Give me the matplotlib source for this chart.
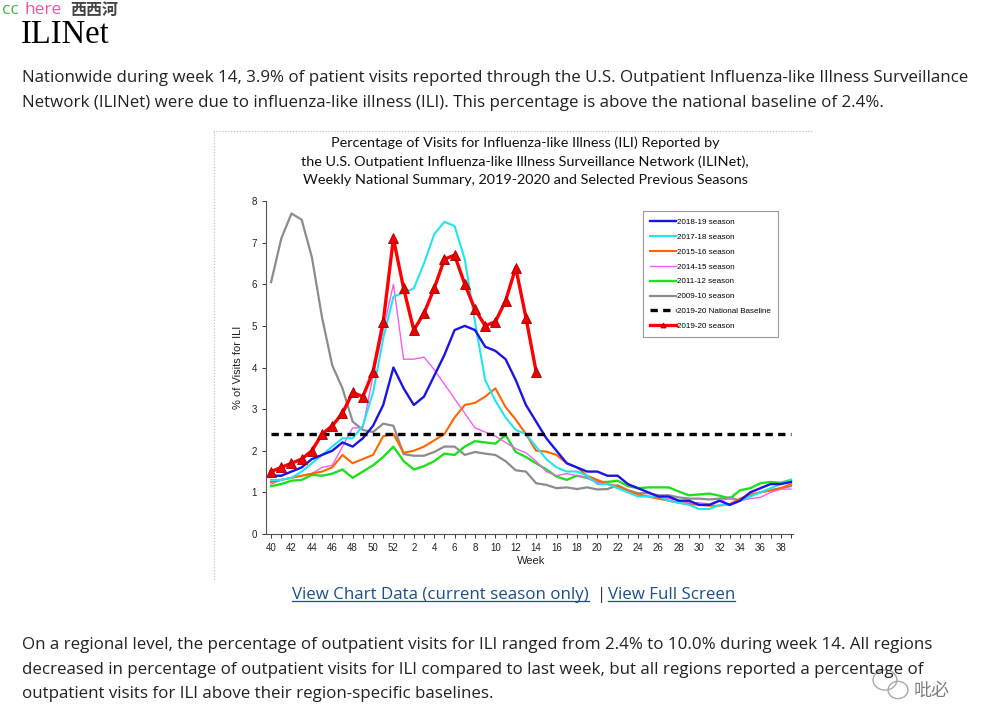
import matplotlib
matplotlib.use("Agg")
import matplotlib.pyplot as plt
from matplotlib.lines import Line2D
from matplotlib.patches import Ellipse

# ---- data ----
weeks = list(range(40, 53)) + list(range(1, 40))
week_labels = [str(w) if i % 2 == 0 else "" for i, w in enumerate(weeks)]

s1819 = [1.4, 1.4, 1.5, 1.6, 1.8, 1.9, 2.0, 2.2, 2.1, 2.3, 2.6, 3.1, 4.0,
         3.5, 3.1, 3.3, 3.8, 4.3, 4.9, 5.0, 4.9, 4.5, 4.4, 4.2, 3.7, 3.1, 2.7,
         2.3, 2.0, 1.7, 1.6, 1.5, 1.5, 1.4, 1.4, 1.2, 1.1, 1.0, 0.9, 0.9, 0.8,
         0.8, 0.7, 0.7, 0.8, 0.7, 0.8, 1.0, 1.1, 1.2, 1.2, 1.25]
s1718 = [1.3, 1.3, 1.35, 1.5, 1.7, 1.9, 2.1, 2.3, 2.3, 2.6, 3.4, 4.7, 5.7,
         5.8, 5.9, 6.5, 7.2, 7.5, 7.4, 6.6, 5.1, 3.7, 3.2, 2.8, 2.5, 2.4, 2.1,
         1.8, 1.6, 1.5, 1.5, 1.4, 1.2, 1.2, 1.1, 1.0, 0.9, 0.9, 0.9, 0.8, 0.75,
         0.7, 0.6, 0.6, 0.7, 0.7, 0.8, 0.9, 1.0, 1.1, 1.2, 1.3]
s1516 = [1.25, 1.3, 1.35, 1.4, 1.45, 1.5, 1.6, 1.9, 1.7, 1.8, 1.9, 2.35, 2.4,
         1.95, 2.0, 2.1, 2.25, 2.4, 2.8, 3.1, 3.15, 3.3, 3.5, 3.05, 2.75, 2.4,
         2.0, 1.98, 1.9, 1.7, 1.6, 1.4, 1.3, 1.2, 1.15, 1.05, 0.95, 0.9, 0.85,
         0.8, 0.75, 0.72, 0.7, 0.68, 0.68, 0.72, 0.85, 0.95, 1.0, 1.05, 1.1, 1.2]
s1415 = [1.2, 1.3, 1.35, 1.4, 1.45, 1.6, 1.65, 2.1, 2.55, 2.55, 3.8, 4.9, 6.0,
         4.2, 4.2, 4.25, 3.95, 3.6, 3.25, 2.9, 2.55, 2.45, 2.35, 2.2, 2.05,
         1.95, 1.75, 1.5, 1.4, 1.45, 1.4, 1.35, 1.25, 1.2, 1.1, 1.0, 0.95, 0.9,
         0.85, 0.85, 0.8, 0.75, 0.75, 0.72, 0.8, 0.85, 0.8, 0.85, 0.88, 1.0,
         1.08, 1.08]
s1112 = [1.15, 1.2, 1.28, 1.3, 1.42, 1.4, 1.45, 1.55, 1.35, 1.5, 1.65, 1.85,
         2.1, 1.75, 1.55, 1.63, 1.75, 1.93, 1.9, 2.1, 2.23, 2.2, 2.17, 2.38,
         1.97, 1.85, 1.7, 1.55, 1.38, 1.3, 1.4, 1.35, 1.25, 1.25, 1.28, 1.15,
         1.1, 1.12, 1.12, 1.12, 1.02, 0.93, 0.95, 0.97, 0.92, 0.85, 1.05, 1.1,
         1.22, 1.25, 1.23, 1.3]
s0910 = [6.05, 7.1, 7.7, 7.55, 6.65, 5.2, 4.05, 3.5, 2.7, 2.5, 2.45, 2.65,
         2.6, 1.92, 1.88, 1.88, 1.97, 2.1, 2.1, 1.9, 1.97, 1.93, 1.9, 1.75,
         1.53, 1.5, 1.22, 1.18, 1.1, 1.12, 1.08, 1.12, 1.07, 1.08, 1.17, 1.05,
         0.98, 0.98, 0.93, 0.93, 0.88, 0.85, 0.85, 0.83, 0.85, 0.88, 0.8, 0.93,
         1.0, 1.05, 1.1, 1.15]
s1920 = [1.5, 1.6, 1.7, 1.8, 2.0, 2.4, 2.6, 2.9, 3.4, 3.3, 3.9, 5.1, 7.1,
         5.9, 4.9, 5.3, 5.9, 6.6, 6.7, 6.0, 5.4, 5.0, 5.1, 5.6, 6.4, 5.2, 3.9]
baseline = 2.4

title_lines = ["Percentage of Visits for Influenza-like Illness (ILI) Reported by",
               "the U.S. Outpatient Influenza-like Illness Surveillance Network (ILINet),",
               "Weekly National Summary, 2019-2020 and Selected Previous Seasons"]

W, H = 991, 720
fig = plt.figure(figsize=(W / 100, H / 100), dpi=100)


def fx(px):
    return px / W


def fy(py):
    return 1 - py / H


# ---- page header ----
fig.text(fx(2), fy(10), "cc", color="#4caf50", fontsize=12.5, family="Open Sans", va="center")
fig.text(fx(24), fy(10), "here", color="#ff4fa3", fontsize=12.5, family="Open Sans", va="center")
fig.text(fx(70), fy(10), "西西河", color="#444444", fontsize=11.5, family="Noto Sans CJK SC",
         weight="bold", va="center")
fig.text(fx(21), fy(35), "ILINet", color="black", fontsize=23.5, family="Liberation Serif", va="center")

body = dict(fontsize=12.2, family="Open Sans", color="#222222", va="center")
fig.text(fx(22), fy(78), "Nationwide during week 14, 3.9% of patient visits reported through the "
         "U.S. Outpatient Influenza-like Illness Surveillance", **body)
fig.text(fx(22), fy(103), "Network (ILINet) were due to influenza-like illness (ILI). "
         "This percentage is above the national baseline of 2.4%.", **body)
fig.text(fx(22), fy(645), "On a regional level, the percentage of outpatient visits for ILI ranged "
         "from 2.4% to 10.0% during week 14. All regions", **body)
fig.text(fx(22), fy(670), "decreased in percentage of outpatient visits for ILI compared to last week, "
         "but all regions reported a percentage of", **body)
fig.text(fx(22), fy(694), "outpatient visits for ILI above their region-specific baselines.", **body)

# dotted frame of the chart image
fig.add_artist(Line2D([fx(213), fx(812)], [fy(131), fy(131)], color="#bbbbbb", lw=0.8, ls=":"))
fig.add_artist(Line2D([fx(214), fx(214)], [fy(131), fy(580)], color="#bbbbbb", lw=0.8, ls=":"))

# chart title
for line, ty in zip(title_lines, [143, 161.5, 180]):
    fig.text(fx(525), fy(ty), line, ha="center", va="center", fontsize=10.4,
             family="Lato", color="#111111")

# ---- the chart ----
ax = fig.add_axes([fx(266), fy(534), fx(793) - fx(266), fy(201) - fy(534)])
x_all = list(range(len(weeks)))

l0910, = ax.plot(x_all, s0910, color="#8c8c8c", lw=1.6)
l1112, = ax.plot(x_all, s1112, color="#1fe01f", lw=1.7)
l1415, = ax.plot(x_all, s1415, color="#f25ef2", lw=1.0)
l1516, = ax.plot(x_all, s1516, color="#ff6600", lw=1.5)
l1718, = ax.plot(x_all, s1718, color="#22e4f0", lw=1.5)
l1819, = ax.plot(x_all, s1819, color="#1a14e6", lw=1.7)
lbase, = ax.plot(x_all, [baseline] * len(weeks), color="black", lw=2.4, ls=(0, (2.2, 1.6)))
l1920, = ax.plot(x_all[:len(s1920)], s1920, color="#ff0000", lw=2.4, marker="^",
                 markersize=6.5, markerfacecolor="#ee0000", markeredgecolor="#a00000",
                 markeredgewidth=0.6)

ax.set_xlim(-0.5, 51.2)
ax.set_ylim(0, 8)
ax.set_xticks(x_all)
ax.set_xticklabels(week_labels)
ax.set_yticks(range(0, 9))
ax.tick_params(axis="both", labelsize=7, direction="out", length=3, width=0.7,
               colors="#333333", labelcolor="#222222")
for lab in ax.get_xticklabels() + ax.get_yticklabels():
    lab.set_family("Liberation Sans")
for s in ["top", "right"]:
    ax.spines[s].set_visible(False)
for s in ["left", "bottom"]:
    ax.spines[s].set_color("#555555")
    ax.spines[s].set_linewidth(0.8)

fig.text(fx(238), fy(367), "% of Visits for ILI", rotation=90, ha="center", va="center",
         fontsize=8, family="Liberation Sans", color="#222222")
fig.text(fx(531), fy(561), "Week", ha="center", va="center", fontsize=8,
         family="Liberation Sans", color="#222222")

leg = ax.legend([l1819, l1718, l1516, l1415, l1112, l0910, lbase, l1920],
                ["2018-19 season", "2017-18 season", "2015-16 season", "2014-15 season",
                 "2011-12 season", "2009-10 season", "2019-20 National Baseline",
                 "2019-20 season"],
                loc="upper left", bbox_to_anchor=(fx(643), fy(211)), bbox_transform=fig.transFigure,
                fancybox=False, framealpha=1, edgecolor="#999999",
                prop={"family": "Liberation Sans", "size": 5.8},
                handlelength=3.2, handletextpad=0.1, labelspacing=0.9,
                borderpad=0.9, borderaxespad=0, markerscale=0.55)
leg.get_frame().set_linewidth(0.8)

# ---- links under chart ----
link = dict(fontsize=12.2, family="Open Sans", color="#1b4f8c", va="baseline")
t1 = fig.text(fx(292), fy(599), "View Chart Data (current season only)", **link)
t2 = fig.text(fx(608), fy(599), "View Full Screen", **link)
fig.text(fx(597), fy(599), "|", fontsize=12.2, family="Open Sans", color="#333333", va="baseline")
fig.canvas.draw()
r = fig.canvas.get_renderer()
for t in (t1, t2):
    bb = t.get_window_extent(r)
    yy = (bb.y0 + 2) / H
    fig.add_artist(Line2D([bb.x0 / W, bb.x1 / W], [yy, yy], color="#1b4f8c", lw=0.9))

# watermark
fig.add_artist(Ellipse((fx(885), fy(680)), 0.024, 0.028, fill=False, edgecolor="#aaaaaa", lw=1))
fig.add_artist(Ellipse((fx(898), fy(690)), 0.020, 0.024, fill=False, edgecolor="#aaaaaa", lw=1))
fig.text(fx(932), fy(691), "吡必", ha="center", va="center", fontsize=13,
         family="Noto Sans CJK SC", color="#555555", alpha=0.75)

fig.savefig("out.png", dpi=100)
